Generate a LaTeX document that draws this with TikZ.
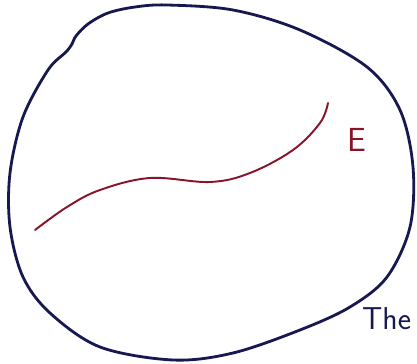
\documentclass[tikz,border=0pt]{standalone}
\usepackage{tikz}
\usetikzlibrary{arrows.meta}

\definecolor{inkblue}{RGB}{24,24,80}
\definecolor{inkred}{RGB}{135,20,40}

\begin{document}
\begin{tikzpicture}[x=0.02cm,y=-0.02cm,line cap=round,line join=round]
  \useasboundingbox (0,0) rectangle (417,364);

  % outer region (hand-drawn blob)
  \draw[inkblue,line width=1.6pt] plot[smooth cycle,tension=0.55] coordinates {
    (167,5) (233,10) (300,30) (367,67) (400,110) (413,167) (410,227)
    (387,277) (350,307) (300,330) (233,353) (173,360) (100,347)
    (50,313) (23,277) (10,227) (10,173) (23,117) (48,70) (66,52)
    (72,44) (76,36) (88,24) (108,13) (135,7)};

  % the curve E inside
  \draw[inkred,line width=1.1pt] plot[smooth,tension=0.6] coordinates {
    (35,230) (67,207) (100,190) (150,178) (210,182) (250,173)
    (293,150) (320,123) (328,103)};

  % labels
  \node[inkred,font=\sffamily\fontsize{19}{19}\selectfont] (lblE) at (357,140) {E};
  \node[inkblue,font=\sffamily\fontsize{18}{18}\selectfont,anchor=south west] (lblThe) at (356,336) {The};
\end{tikzpicture}
\end{document}
